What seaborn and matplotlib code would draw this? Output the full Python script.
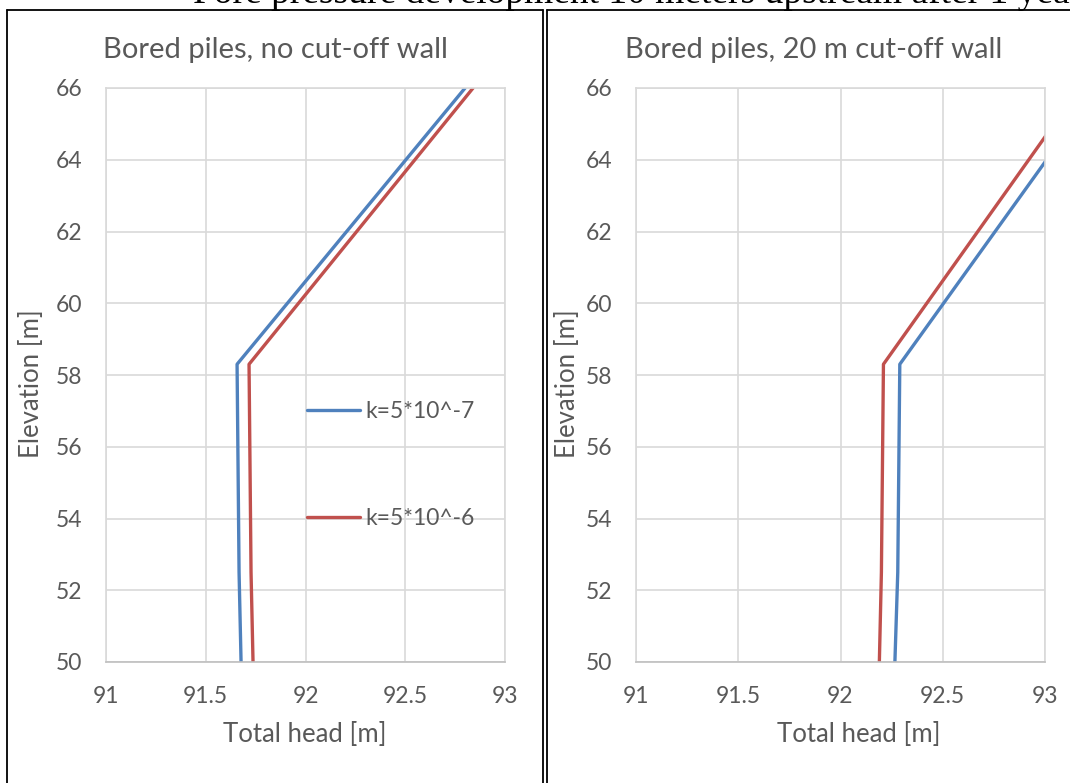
import pandas as pd
import seaborn as sns
import matplotlib.pyplot as plt
from matplotlib.lines import Line2D

# Data (total head vs elevation)
elevation = [50, 52.5, 58.3, 66]
left_k7 = [91.677, 91.667, 91.657, 92.80]
left_k6 = [91.737, 91.727, 91.717, 92.84]
right_k7 = [92.266, 92.28, 92.29, 93.26]
right_k6 = [92.19, 92.20, 92.21, 93.17]
labels = ["k=5*10^-7", "k=5*10^-6"]
panel_titles = ["Bored piles, no cut-off wall", "Bored piles, 20 m cut-off wall"]
x_ticks = [91, 91.5, 92, 92.5, 93]
x_tick_labels = ["91", "91.5", "92", "92.5", "93"]
y_ticks = [50, 52, 54, 56, 58, 60, 62, 64, 66]
suptitle = "Pore pressure development 10 meters upstream after 1 year"

BLUE = "#4f81bd"
RED = "#c0504d"
GREY = "#595959"
GRID = "#d9d9d9"

sns.set_theme(style="whitegrid")
plt.rcParams["font.family"] = ["Lato", "DejaVu Sans"]


def make_frame(k7, k6):
    rows = []
    for i, a in enumerate(k7):
        rows.append({"head": a, "elev": elevation[i], "k": labels[0]})
    for i, b in enumerate(k6):
        rows.append({"head": b, "elev": elevation[i], "k": labels[1]})
    return pd.DataFrame(rows)


fig = plt.figure(figsize=(10.7, 7.83), dpi=100)
W, H = 1070, 783
ax_l = fig.add_axes([106 / W, 1 - 662 / H, 399 / W, 574 / H])
ax_r = fig.add_axes([636 / W, 1 - 662 / H, 409 / W, 574 / H])

panels = [(ax_l, left_k7, left_k6, -0.155, 0.497), (ax_r, right_k7, right_k6, -0.137, 0.545)]
for ax, k7, k6, ylab_x, xlab_x in panels:
    df = make_frame(k7, k6)
    sns.lineplot(data=df, x="head", y="elev", hue="k", sort=False,
                 palette={labels[0]: BLUE, labels[1]: RED}, linewidth=2.4,
                 estimator=None, ax=ax, legend=(ax is ax_l))
    ax.set_xlim(91, 93)
    ax.set_ylim(50, 66)
    ax.set_xticks(x_ticks)
    ax.set_xticklabels(x_tick_labels)
    ax.set_yticks(y_ticks)
    ax.grid(True, color=GRID, linewidth=1.2)
    for s in ax.spines.values():
        s.set_color(GRID)
        s.set_linewidth(1.2)
    ax.spines["bottom"].set_color("#bfbfbf")
    ax.tick_params(length=0, pad=17, labelsize=16.5, colors=GREY)
    ax.set_xlabel("Total head [m]", fontsize=18.5, color=GREY)
    ax.set_ylabel("Elevation [m]", fontsize=18.5, color=GREY)
    ax.yaxis.set_label_coords(ylab_x, 0.485)
    ax.xaxis.set_label_coords(xlab_x, -0.105)

leg = ax_l.legend(loc="upper left", bbox_to_anchor=(0.504, 0.454), frameon=False,
                  fontsize=16.5, labelspacing=3.75, handlelength=2.3, handletextpad=0.25,
                  borderpad=0, borderaxespad=0)
for t in leg.get_texts():
    t.set_color(GREY)
for h in leg.get_lines():
    h.set_linewidth(2.4)

fig.text(275 / W, 1 - 50 / H, panel_titles[0], fontsize=21, color=GREY, ha="center", va="center")
fig.text(814 / W, 1 - 50 / H, panel_titles[1], fontsize=21, color=GREY, ha="center", va="center")

# cropped document title above the two charts
fig.text(193 / W, 1 - 3 / H, suptitle, fontsize=27, color="black",
         family="Liberation Serif", ha="left", va="baseline")

# black cell borders around the two charts
ft = fig.transFigure
top = 1 - 10 / H
for xs, ys in [([7 / W, 7 / W], [0, top]),
               ([7 / W, 543 / W], [top, top]),
               ([543 / W, 543 / W], [0, top]),
               ([546.5 / W, 546.5 / W], [0, top]),
               ([546.5 / W, 1], [top, top])]:
    fig.add_artist(Line2D(xs, ys, transform=ft, color="black", linewidth=1.3))

fig.savefig("out.png", dpi=100)
